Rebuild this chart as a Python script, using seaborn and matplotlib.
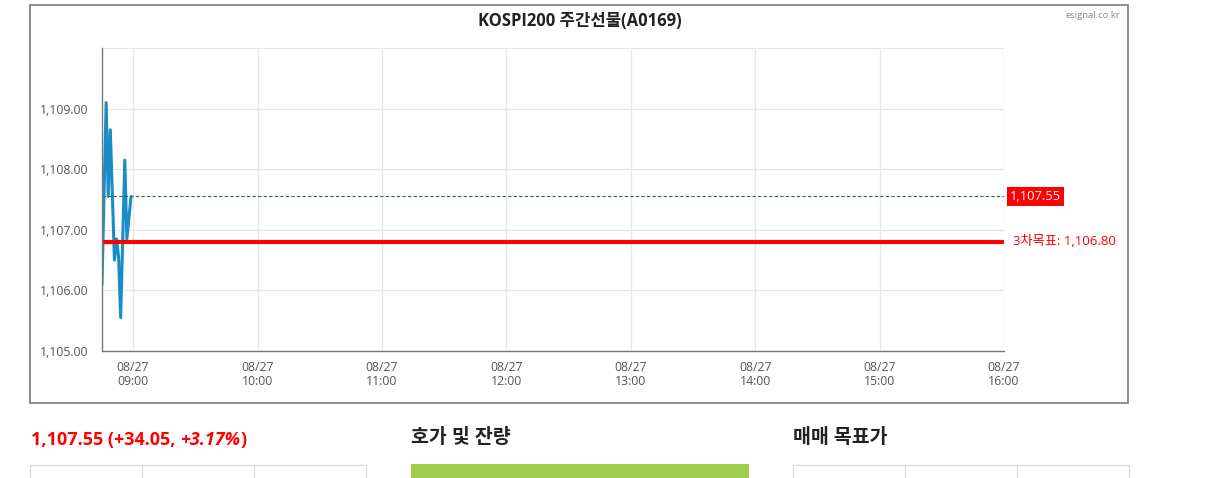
import pandas as pd
import seaborn as sns
import matplotlib.pyplot as plt
import matplotlib.dates as mdates
from matplotlib.patches import Rectangle
from matplotlib.ticker import FuncFormatter, FixedLocator

# Data
day = "2024-08-27"
times = ["08:45", "08:47", "08:48", "08:49", "08:51", "08:52",
         "08:53", "08:54", "08:56", "08:57", "08:59"]
prices = [1106.10, 1109.10, 1107.55, 1108.65, 1106.50, 1106.85,
          1106.55, 1105.55, 1108.15, 1106.85, 1107.55]
last_price = 1107.55
target_name = "3차목표"
target_price = 1106.80
y_ticks = [1105, 1106, 1107, 1108, 1109, 1110]
hour_ticks = [9, 10, 11, 12, 13, 14, 15, 16]

df = pd.DataFrame({"time": pd.to_datetime([f"{day} {t}" for t in times]),
                   "price": prices})

sns.set_style("white")
plt.rcParams['font.family'] = ['Open Sans', 'Noto Sans CJK KR', 'DejaVu Sans']

W, H = 1215, 478
fig = plt.figure(figsize=(W / 100, H / 100), dpi=100)

def fx(px):
    return px / W

def fy(py):
    return 1 - py / H

# outer frame of the chart box
fig.patches.append(Rectangle((fx(30), fy(403)), fx(1098), 398 / H, transform=fig.transFigure,
                             fill=False, edgecolor='#7a7a7a', lw=1.2))

ax = fig.add_axes([fx(102), fy(351), fx(902), 303 / H])
sns.lineplot(data=df, x="time", y="price", ax=ax, color='#1a8cc6', lw=2.2)

ax.axhline(last_price, color='#2e6b2e', ls=(0, (3, 2)), lw=0.8)
ax.axhline(target_price, color='#ff0000', lw=3)

ax.set_xlim(pd.Timestamp(f"{day} 08:45"), pd.Timestamp(f"{day} 16:00"))
ax.set_ylim(1105, 1110)
ax.xaxis.set_major_locator(FixedLocator(
    [mdates.date2num(pd.Timestamp(f"{day} {h:02d}:00")) for h in hour_ticks]))
ax.xaxis.set_major_formatter(mdates.DateFormatter('%m/%d\n%H:%M'))
ax.yaxis.set_major_locator(FixedLocator(y_ticks))
ax.yaxis.set_major_formatter(FuncFormatter(lambda v, p: "" if v >= 1110 else f"{v:,.2f}"))

ax.grid(True, color='#e6e6e6', lw=0.9)
ax.set_axisbelow(True)
for s in ['top', 'right']:
    ax.spines[s].set_visible(False)
for s in ['left', 'bottom']:
    ax.spines[s].set_color('#777777')
    ax.spines[s].set_linewidth(1.0)
ax.tick_params(axis='y', length=7.5, color='#777777', labelcolor='#555555', labelsize=8.8, pad=2)
ax.tick_params(axis='x', length=5, color='#777777', labelcolor='#555555', labelsize=8.8, pad=2)
for lab in ax.get_xticklabels():
    lab.set_linespacing(1.1)
ax.set_xlabel("")
ax.set_ylabel("")

trans = ax.get_yaxis_transform()
ax.text(1 + 6 / 902, last_price, f"{last_price:,.2f}", transform=trans, clip_on=False,
        color='white', fontsize=9.3, va='center', ha='left',
        bbox=dict(boxstyle='square,pad=0.22', fc='#ff0000', ec='none'))
ax.text(1 + 9 / 902, target_price, f"{target_name}: {target_price:,.2f}", transform=trans,
        clip_on=False, color='#ff0000', fontsize=9.5, va='center', ha='left')

fig.text(fx(580), fy(21), "KOSPI200 주간선물(A0169)", ha='center', va='center',
         fontsize=12, fontweight='bold', color='#222222')
fig.text(fx(1120), fy(15), "esignal.co.kr", ha='right', va='center', fontsize=6.8, color='#888888')

# summary line below the chart
fig.canvas.draw()
r = fig.canvas.get_renderer()
t1 = fig.text(fx(31), fy(440), "1,107.55 (+34.05, ", ha='left', va='center',
              fontsize=13, fontweight='bold', color='#ff0000')
x_next = t1.get_window_extent(r).x1 / W
t2 = fig.text(x_next, fy(440), "+3.17%", ha='left', va='center',
              fontsize=13, fontweight='bold', style='italic', color='#ff0000')
x_next = t2.get_window_extent(r).x1 / W
fig.text(x_next, fy(440), ")", ha='left', va='center',
         fontsize=13, fontweight='bold', color='#ff0000')

fig.text(fx(411), fy(438), "호가 및 잔량", ha='left', va='center', fontsize=14,
         fontweight='bold', color='#222222')
fig.text(fx(793), fy(438), "매매 목표가", ha='left', va='center', fontsize=14,
         fontweight='bold', color='#222222')

fig.patches.append(Rectangle((fx(411), 0), fx(338), 14 / H, transform=fig.transFigure,
                             fc='#9fce4c', ec='none'))
for left, divs in [(30, [142, 254]), (793, [905, 1017])]:
    fig.patches.append(Rectangle((fx(left), -0.05), fx(336), 0.05 + 13 / H,
                                 transform=fig.transFigure, fill=False, ec='#dddddd', lw=1))
    for d in divs:
        fig.lines.append(plt.Line2D([fx(d), fx(d)], [0, fy(465)], transform=fig.transFigure,
                                    color='#dddddd', lw=1))

fig.savefig("out.png", dpi=100)
